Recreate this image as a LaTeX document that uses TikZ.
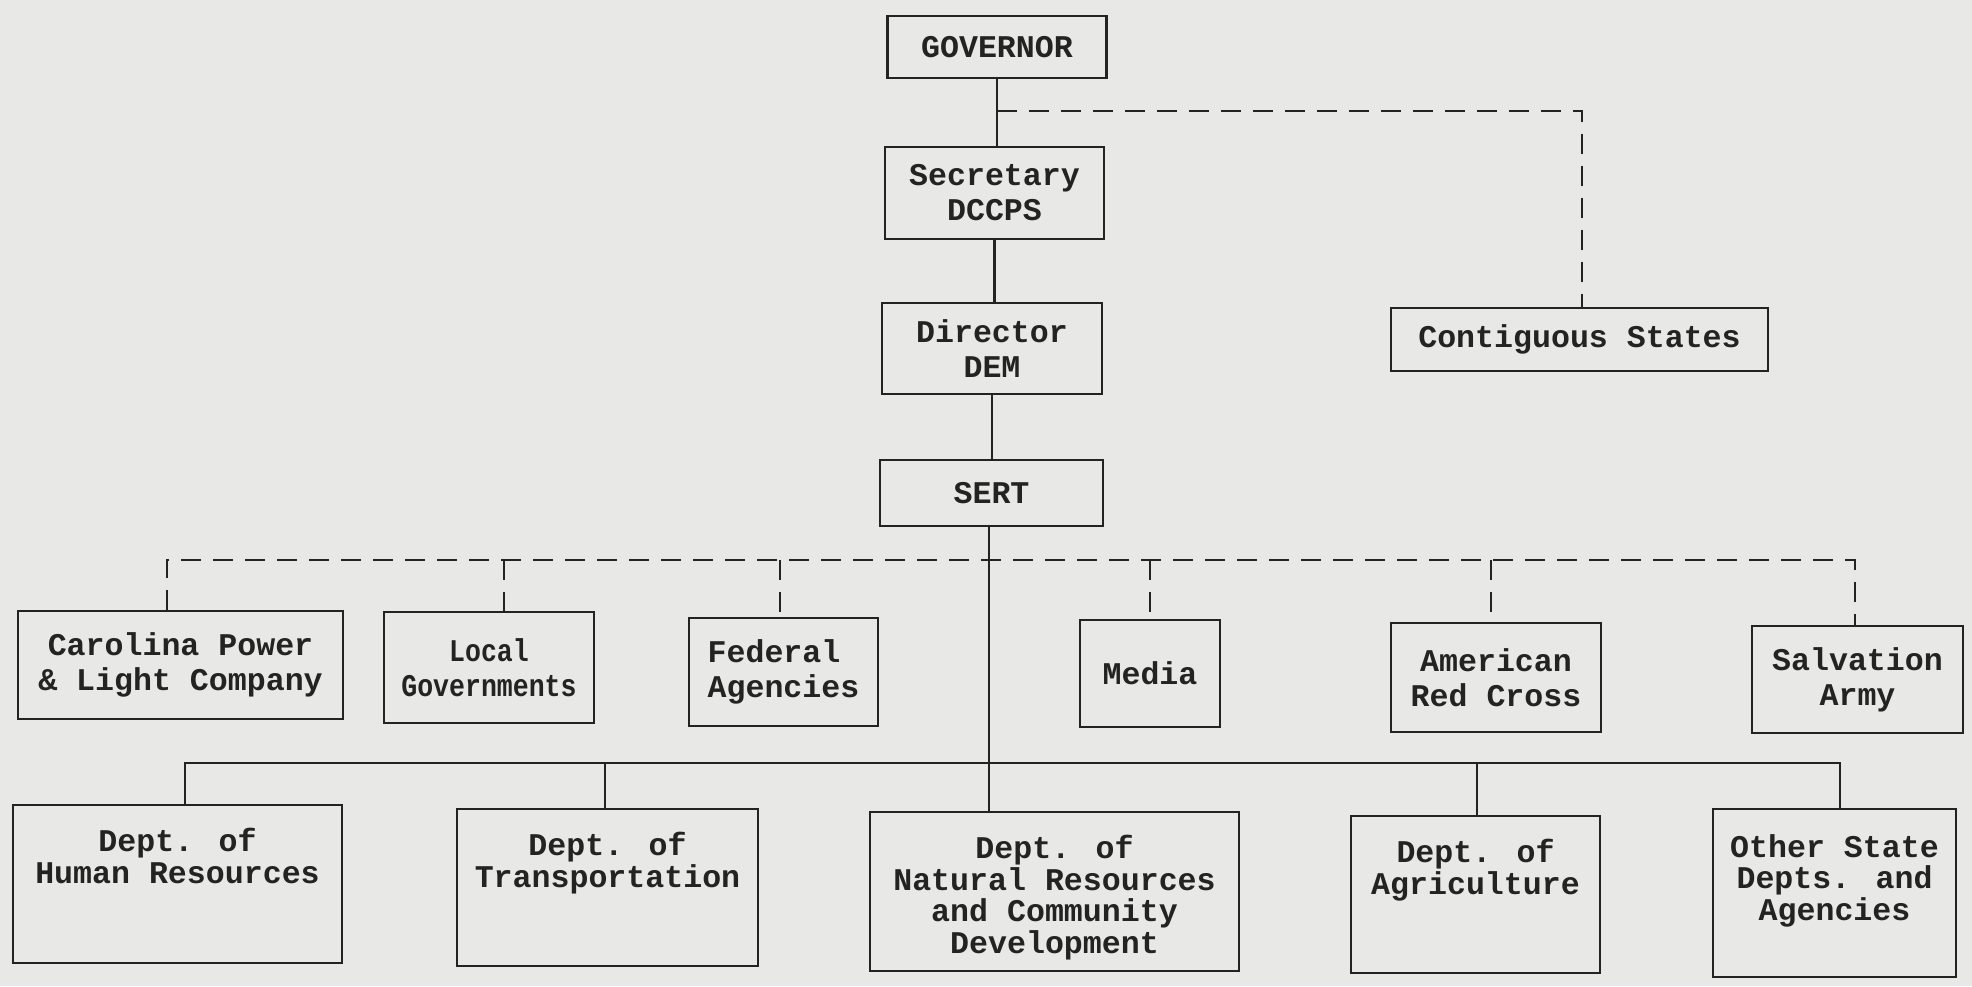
\documentclass[tikz,border=0pt]{standalone}
\usepackage{fontspec}
\setmainfont{Liberation Mono}
\newfontfamily\condmono{Liberation Mono}[FakeStretch=0.84]
\definecolor{paper}{RGB}{232,232,230}
\definecolor{ink}{RGB}{35,35,35}
\begin{document}
\begin{tikzpicture}[x=0.5pt,y=-0.5pt,
  box/.style={draw=ink, line width=1.2pt, inner sep=0pt, text=ink, align=center,
    font=\bfseries\fontsize{15.8}{17.5}\selectfont},
  lbl/.style={inner sep=0pt, text=ink, align=center, anchor=north,
    font=\bfseries\fontsize{15.8}{15.8}\selectfont},
  link/.style={draw=ink, line width=1.1pt},
  dsh/.style={draw=ink, line width=1.1pt, dash pattern=on 10pt off 6pt}]
\fill[paper] (0,0) rectangle (1972,986);
\useasboundingbox (0,0) rectangle (1972,986);
% upper chain
\node[box, minimum width=109.5pt, minimum height=31pt] (gov) at (997,47) {GOVERNOR};
\node[box, minimum width=109.5pt, minimum height=46pt] (sec) at (994.5,193) {Secretary\\DCCPS};
\node[box, minimum width=110pt, minimum height=45.5pt] (dir) at (992,348.5) {Director\\DEM};
\node[box, minimum width=111.5pt, minimum height=33pt] (sert) at (991.5,493) {SERT};
\node[box, minimum width=188.5pt, minimum height=31.5pt] (cont) at (1579.5,339.5) {Contiguous States};
% first row
\node[box, minimum width=162.5pt, minimum height=54pt] (cpl) at (180.5,665) {Carolina Power\\\& Light Company};
\node[box, minimum width=105pt, minimum height=55.5pt, font=\condmono\bfseries\fontsize{15.8}{17.5}\selectfont] (lg) at (489,667.5) {Local\\Governments};
\node[box, minimum width=94.5pt, minimum height=54pt, align=left] (fa) at (783.5,672) {Federal\\Agencies};
\node[box, minimum width=70pt, minimum height=53.5pt] (med) at (1150,673.5) {Media};
\node[box, minimum width=105pt, minimum height=54.5pt] (arc) at (1496,677.5) {American\\Red Cross};
\node[box, minimum width=105.5pt, minimum height=53.5pt] (sal) at (1857.5,679.5) {Salvation\\Army};
% second row
\node[box, minimum width=164.5pt, minimum height=79pt] (hr) at (177.5,884) {};
\node[box, minimum width=150.5pt, minimum height=78.5pt] (tr) at (607.5,887.5) {};
\node[box, minimum width=184.5pt, minimum height=79.5pt] (nr) at (1054.5,891.5) {};
\node[box, minimum width=124.5pt, minimum height=78.5pt] (ag) at (1475.5,894.5) {};
\node[box, minimum width=121.5pt, minimum height=84pt] (ot) at (1834.5,893) {};
\node[lbl] (hrt) at ([yshift=-12pt]hr.north) {Dept. of\\Human Resources};
\node[lbl] (trt) at ([yshift=-12pt]tr.north) {Dept. of\\Transportation};
\node[lbl] (nrt) at ([yshift=-12pt]nr.north) {Dept. of\\Natural Resources\\and Community\\Development};
\node[lbl] (agt) at ([yshift=-12pt]ag.north) {Dept. of\\Agriculture};
\node[lbl] (ott) at ([yshift=-13pt]ot.north) {Other State\\Depts. and\\Agencies};
% trunk
\draw[link] (gov.south) -- (gov.south |- sec.north);
\draw[link] (sec.south) -- (sec.south |- dir.north);
\draw[link] (dir.south) -- (dir.south |- sert.north);
\coordinate (b1) at (185,763);
\coordinate (b2) at (605,763);
\coordinate (b3) at (989,763);
\coordinate (b4) at (1477,763);
\coordinate (b5) at (1840,763);
\draw[link] (b3 |- sert.south) -- (b3 |- nr.north);
\draw[link] (b1 |- hr.north) -- (b1) -- (b5) -- (b5 |- ot.north);
\draw[link] (b2) -- (b2 |- tr.north);
\draw[link] (b4) -- (b4 |- ag.north);
% dashed to contiguous states
\coordinate (dj) at (997,111);
\coordinate (dc) at (1582,111);
\draw[dsh] (dj) -- (dc) -- (dc |- cont.north);
% dashed bus
\coordinate (d1) at (167,560);
\coordinate (d2) at (504,560);
\coordinate (d3) at (780,560);
\coordinate (d4) at (1150,560);
\coordinate (d5) at (1491,560);
\coordinate (d6) at (1855,560);
\draw[dsh] (d1 |- cpl.north) -- (d1) -- (d6) -- (d6 |- sal.north);
\draw[dsh] (d2) -- (d2 |- lg.north);
\draw[dsh] (d3) -- (d3 |- fa.north);
\draw[dsh] (d4) -- (d4 |- med.north);
\draw[dsh] (d5) -- (d5 |- arc.north);
\end{tikzpicture}
\end{document}
